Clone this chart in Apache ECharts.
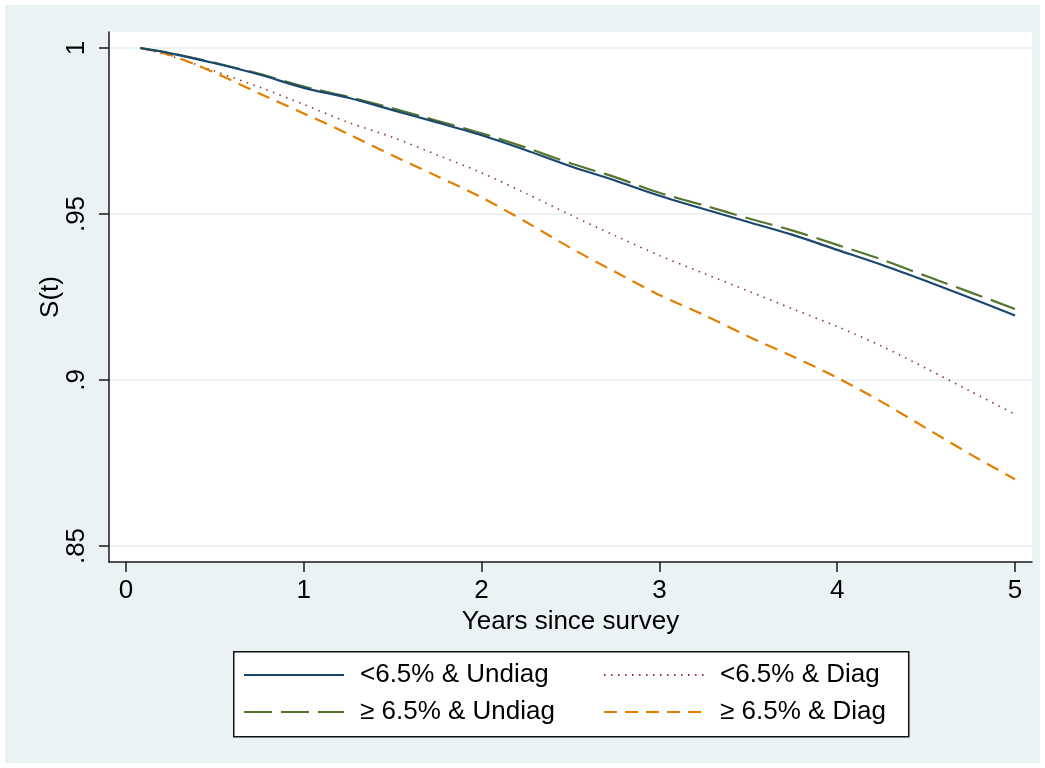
<!DOCTYPE html>
<html>
<head>
<meta charset="utf-8">
<script src="https://cdn.jsdelivr.net/npm/echarts@6/dist/echarts.min.js"></script>
<style>
html,body{margin:0;padding:0;background:#fff;}
#c{position:absolute;left:5px;top:5px;width:1035px;height:758px;}
</style>
</head>
<body>
<div id="c"></div>
<script>
// Time points (years since survey)
const years = [0.08, 0.25, 0.5, 0.75, 1.0, 1.25, 1.5, 1.75, 2.0, 2.25, 2.5, 2.75, 3.0, 3.25, 3.5, 3.75, 4.0, 4.25, 4.5, 4.75, 5.0];
// Survival estimates S(t)
const lowUndiag  = [1.0, 0.9984, 0.9954, 0.9920, 0.9880, 0.9850, 0.9813, 0.9776, 0.9737, 0.9692, 0.9644, 0.9601, 0.9555, 0.9515, 0.9476, 0.9437, 0.9392, 0.9347, 0.9298, 0.9247, 0.9194];
const lowDiag    = [1.0, 0.9976, 0.9930, 0.9882, 0.9830, 0.9776, 0.9731, 0.9678, 0.9624, 0.9562, 0.9497, 0.9435, 0.9375, 0.9321, 0.9268, 0.9214, 0.9161, 0.9102, 0.9035, 0.8966, 0.8897];
const highUndiag = [1.0, 0.9985, 0.9955, 0.9922, 0.9884, 0.9853, 0.9818, 0.9781, 0.9743, 0.9700, 0.9653, 0.9611, 0.9564, 0.9526, 0.9487, 0.9450, 0.9407, 0.9363, 0.9313, 0.9264, 0.9214];
const highDiag   = [1.0, 0.9979, 0.9925, 0.9863, 0.9803, 0.9741, 0.9676, 0.9614, 0.9550, 0.9476, 0.9398, 0.9326, 0.9256, 0.9196, 0.9131, 0.9071, 0.9007, 0.8934, 0.8855, 0.8776, 0.8701];
const seriesNames = ['<6.5% & Undiag', '<6.5% & Diag', '\u2265 6.5% & Undiag', '\u2265 6.5% & Diag'];
const xTicks = [0, 1, 2, 3, 4, 5];
const yTicks = [0.85, 0.9, 0.95, 1];
const yTickLabels = ['.85', '.9', '.95', '1'];
const xTitle = 'Years since survey';
const yTitle = 'S(t)';

const pair = (arr) => years.map((t, i) => [t, arr[i]]);
const FONT = "'Liberation Sans', Arial, sans-serif";
const FS = 26;

const legendCommon = {
  orient: 'vertical', top: 650, itemWidth: 100, itemHeight: 14, itemGap: 7,
  itemStyle: {opacity: 0},
  textStyle: {fontSize: FS, color: '#000', lineHeight: 30, padding: [0, 0, 0, 11], fontFamily: FONT}
};

const chart = echarts.init(document.getElementById('c'));
chart.setOption({
  backgroundColor: '#EAF2F3',
  animation: false,
  textStyle: {fontFamily: FONT, color: '#000'},
  grid: {left: 104, top: 27, right: 8, bottom: 201, show: true, backgroundColor: '#fff', borderWidth: 0},
  xAxis: {
    type: 'value', min: -0.0956, max: 5.0956,
    name: xTitle, nameLocation: 'middle', nameGap: 47, nameMoveOverlap: false,
    nameTextStyle: {fontSize: FS, color: '#000', fontFamily: FONT},
    axisLine: {show: true, onZero: false, lineStyle: {color: '#1a1a1a', width: 1.5}},
    axisTick: {show: true, length: 10, customValues: xTicks, lineStyle: {color: '#1a1a1a', width: 1.5}},
    axisLabel: {customValues: xTicks, fontSize: FS, color: '#000', margin: 16, fontFamily: FONT},
    splitLine: {show: false}
  },
  yAxis: {
    type: 'value', min: 0.84518, max: 1.00482,
    name: yTitle, nameLocation: 'middle', nameGap: 45, nameMoveOverlap: false,
    nameTextStyle: {fontSize: FS, color: '#000', fontFamily: FONT},
    axisLine: {show: true, onZero: false, lineStyle: {color: '#1a1a1a', width: 1.5}},
    axisTick: {show: true, length: 10, customValues: yTicks, lineStyle: {color: '#1a1a1a', width: 1.5}},
    axisLabel: {customValues: yTicks, rotate: 90, fontSize: FS, color: '#000', margin: 19, fontFamily: FONT,
      formatter: (v) => { const i = yTicks.findIndex(t => Math.abs(t - v) < 1e-6); return i >= 0 ? yTickLabels[i] : ''; }},
    splitLine: {show: true, lineStyle: {color: '#EAF2F3', width: 2}}
  },
  legend: [
    Object.assign({}, legendCommon, {left: 233, data: [seriesNames[0], seriesNames[2]]}),
    Object.assign({}, legendCommon, {left: 593, data: [seriesNames[1], seriesNames[3]]})
  ],
  graphic: [
    {type: 'rect', left: 228, top: 646, z: -1,
     shape: {width: 675, height: 85},
     style: {fill: '#fff', stroke: '#111', lineWidth: 1.5}}
  ],
  series: [
    {name: seriesNames[0], type: 'line', data: pair(lowUndiag), symbol: 'none', smooth: 0.3, z: 5,
     color: '#1A476F', lineStyle: {color: '#1A476F', width: 2.2, type: 'solid'}},
    {name: seriesNames[1], type: 'line', data: pair(lowDiag), symbol: 'none', smooth: 0.3, z: 3,
     color: '#90353B', lineStyle: {color: '#90353B', width: 1.6, type: [1.5, 5.5]}},
    {name: seriesNames[2], type: 'line', data: pair(highUndiag), symbol: 'none', smooth: 0.3, z: 4,
     color: '#55752F', lineStyle: {color: '#55752F', width: 2.2, type: [28, 9]}},
    {name: seriesNames[3], type: 'line', data: pair(highDiag), symbol: 'none', smooth: 0.3, z: 3,
     color: '#E37E00', lineStyle: {color: '#E37E00', width: 2.2, type: [13, 8]}}
  ]
});
</script>
</body>
</html>
